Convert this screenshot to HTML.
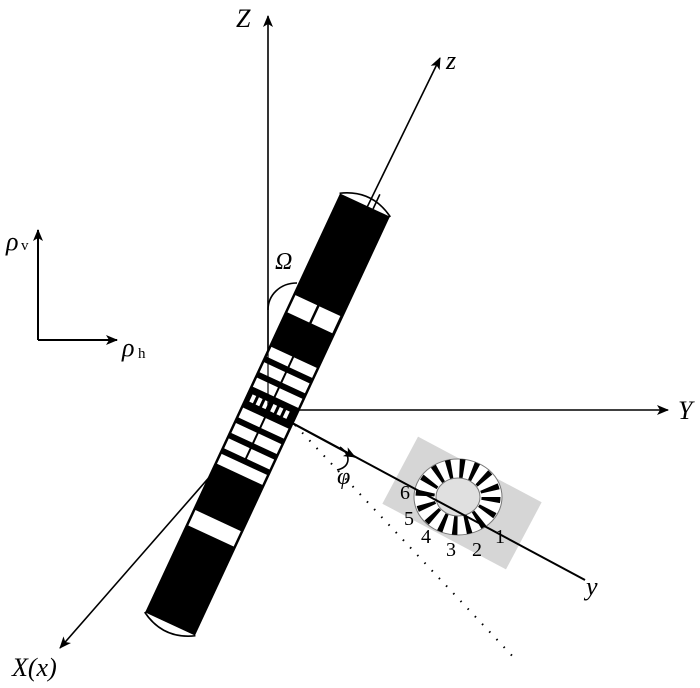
<!DOCTYPE html>
<html><head><style>html,body{margin:0;padding:0;background:#fff}svg{display:block}</style></head>
<body>
<svg width="700" height="688" viewBox="0 0 700 688" xmlns="http://www.w3.org/2000/svg" font-family="Liberation Serif, serif">
<defs>
<marker id="a" viewBox="0 0 12 10" refX="11" refY="5" markerWidth="13" markerHeight="10" markerUnits="userSpaceOnUse" orient="auto"><path d="M0,0 L12,5 L0,10 L3,5 Z" fill="#000"/></marker>
</defs>
<g transform="translate(462,503) rotate(28)">
<rect x="-70" y="-38" width="140" height="76" fill="#d6d6d6"/>
</g>
<g transform="translate(458,497)">
<ellipse cx="0" cy="0" rx="44" ry="38" fill="#fff" stroke="#777" stroke-width="1"/>
<ellipse cx="0" cy="0" rx="33" ry="28.5" fill="none" stroke="#000" stroke-width="19" stroke-dasharray="4.5 7.7"/>
<ellipse cx="0" cy="0" rx="22" ry="19" fill="#e0e0e0" stroke="#777" stroke-width="1"/>
</g>
<g stroke="#000" stroke-width="1.6" fill="none">
<line x1="268" y1="410" x2="268" y2="16" marker-end="url(#a)"/>
<line x1="268" y1="410" x2="668" y2="410" marker-end="url(#a)"/>
<line x1="268" y1="410" x2="60" y2="648" marker-end="url(#a)"/>
<line x1="268" y1="410" x2="440" y2="58" marker-end="url(#a)"/>
<line x1="268" y1="410" x2="585" y2="580" stroke-width="2"/>
<line x1="268" y1="410" x2="355" y2="457" stroke-width="2" marker-end="url(#a)"/>
<line x1="295" y1="425" x2="518" y2="662" stroke-dasharray="1.5 9" stroke-width="2"/>
<line x1="38" y1="340" x2="38" y2="230" stroke-width="2" marker-end="url(#a)"/>
<line x1="38" y1="340" x2="117" y2="340" stroke-width="2" marker-end="url(#a)"/>
<path d="M268,310 C268,295 280,283 297,283"/>
<path d="M340,447 C352,456 350,467 337,470"/>
</g>
<g transform="translate(267.5,414.5) rotate(24.95)">
<path d="M-28,-231 Q0,-248 28,-231" fill="none" stroke="#000" stroke-width="1.6"/>
<path d="M-28,231 Q0,248 28,231" fill="none" stroke="#000" stroke-width="1.6"/>
<rect x="-27.5" y="-231" width="55" height="462" fill="#000"/>
<line x1="9" y1="-231" x2="9" y2="-247" stroke="#000" stroke-width="1.6"/>
<g fill="#fff">
<rect x="-25" y="-120" width="24" height="19"/><rect x="1.5" y="-120" width="23" height="19"/>
<rect x="-25" y="-63" width="23" height="11"/><rect x="0" y="-63" width="25" height="11"/>
<rect x="-25" y="-46" width="23" height="11"/><rect x="0" y="-46" width="25" height="11"/>
<rect x="-25" y="-29" width="23" height="10"/><rect x="0" y="-29" width="25" height="10"/>
<rect x="-22" y="-12" width="4" height="8"/><rect x="-15" y="-12" width="4" height="8"/><rect x="-8" y="-12" width="4" height="8"/><rect x="1" y="-12" width="4" height="8"/><rect x="8" y="-12" width="4" height="8"/><rect x="15" y="-12" width="4" height="8"/>
<rect x="-25" y="4" width="23" height="11"/><rect x="0" y="4" width="25" height="11"/>
<rect x="-25" y="21" width="23" height="11"/><rect x="0" y="21" width="25" height="11"/>
<rect x="-25" y="38" width="23" height="11"/><rect x="0" y="38" width="25" height="11"/>
<rect x="-25" y="55" width="50" height="11"/>
<rect x="-25" y="117" width="50" height="17"/>
</g>
</g>
<line x1="268" y1="300" x2="268" y2="410" stroke="#000" stroke-width="1.2"/>
<g font-style="italic" font-size="26" fill="#000">
<text x="236" y="27">Z</text>
<text x="446" y="69">z</text>
<text x="678" y="419">Y</text>
<text x="586" y="595">y</text>
<text x="12" y="676">X(x)</text>
<text x="275" y="269" font-size="24">Ω</text>
<text x="337" y="484" font-size="24">φ</text>
<text x="6" y="250">ρ</text>
<text x="122" y="356">ρ</text>
</g>
<text x="21" y="250" font-size="15">v</text>
<text x="138" y="358" font-size="15">h</text>
<g font-size="20" fill="#000">
<text x="400" y="499">6</text>
<text x="404" y="525">5</text>
<text x="421" y="543">4</text>
<text x="446" y="556">3</text>
<text x="472" y="556">2</text>
<text x="495" y="543">1</text>
</g>
</svg>
</body></html>
